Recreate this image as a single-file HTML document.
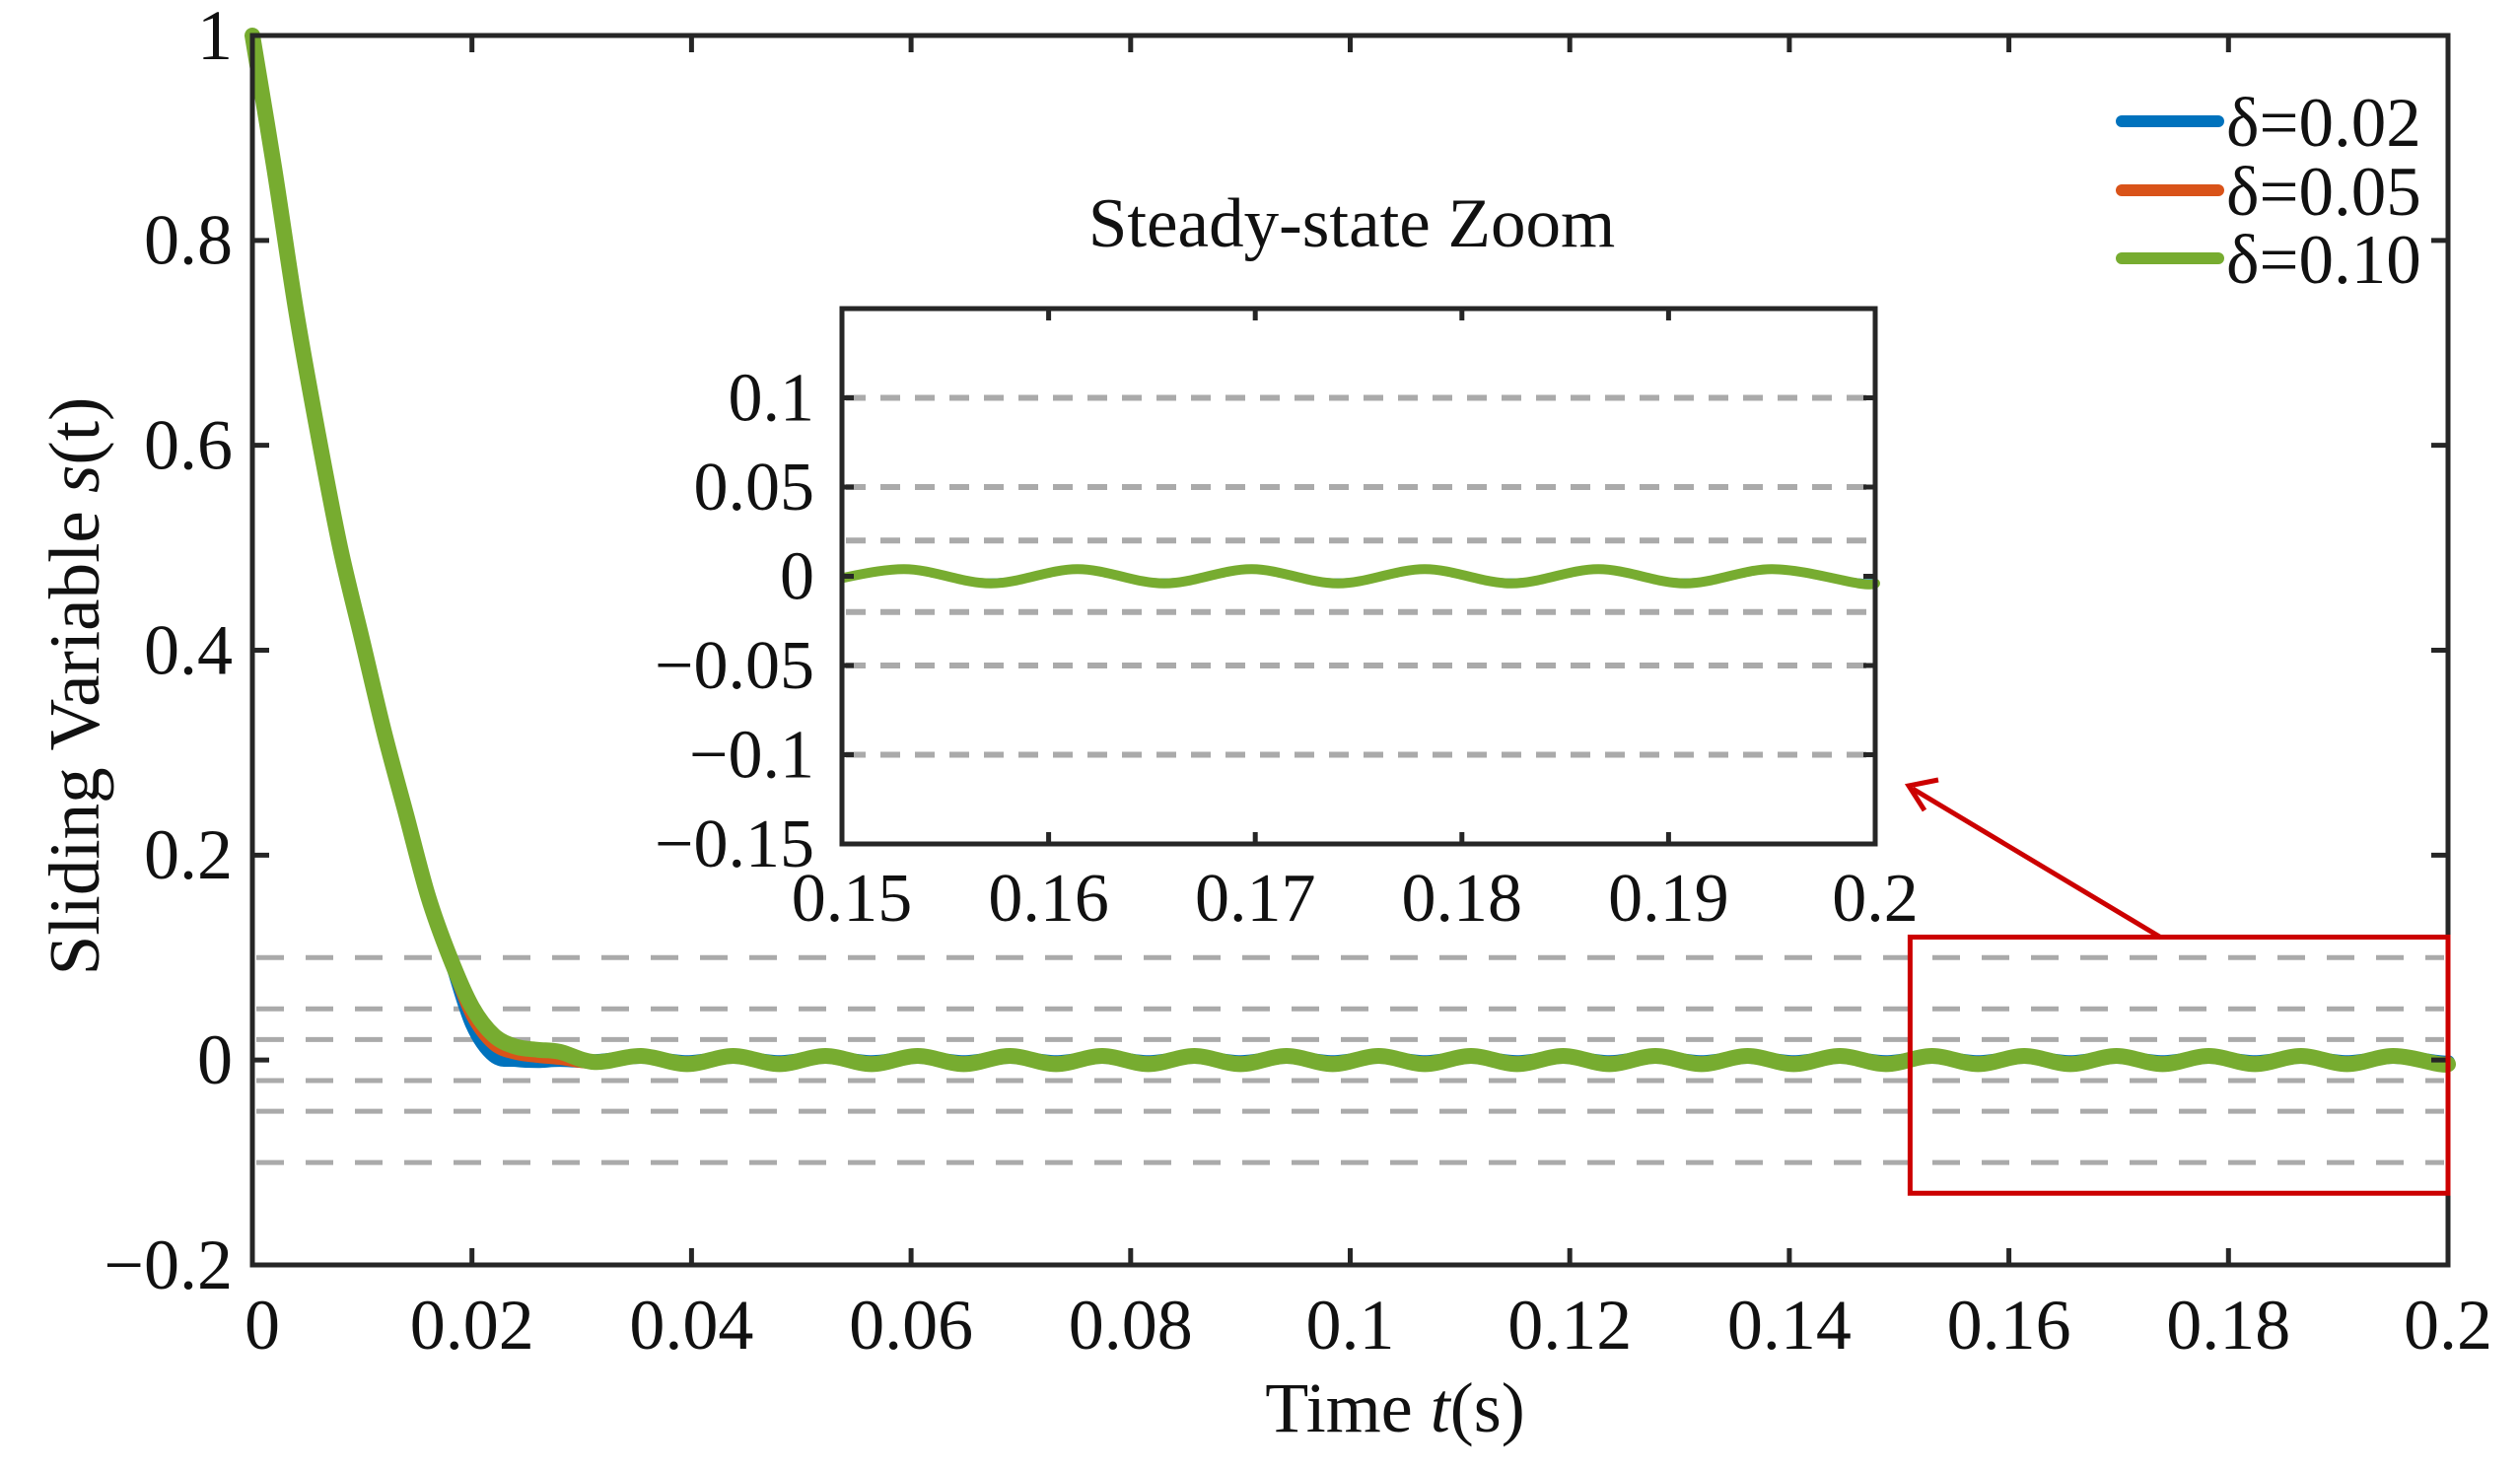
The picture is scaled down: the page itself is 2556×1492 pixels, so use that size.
<!DOCTYPE html>
<html><head><meta charset="utf-8"><style>
html,body{margin:0;padding:0;background:#fff;}
svg{display:block;font-family:"Liberation Serif",serif;}
</style></head><body>
<svg id="chart" width="2556" height="1492" viewBox="0 0 2556 1492" xmlns="http://www.w3.org/2000/svg">
<g id="main-grid"></g>
<g id="main-series"></g>
<g id="main-axes"></g>
<rect x="0" y="0" width="0" height="0" id="zoombox" fill="none" stroke="#cc0000" stroke-width="5"/>
<g id="arrow"></g>
<rect x="854" y="313" width="1048" height="543" fill="#fff"/>
<g id="inset-grid"></g>
<g id="inset-series"></g>
<g id="inset-axes"></g>
<text x="1371" y="250" font-size="71" text-anchor="middle" fill="#111">Steady-state Zoom</text>
<text x="1415" y="1452" font-size="72" text-anchor="middle" fill="#111">Time <tspan font-style="italic">t</tspan>(s)</text>
<text transform="translate(100,696) rotate(-90)" font-size="73" text-anchor="middle" fill="#111">Sliding Variable <tspan font-style="italic">s</tspan>(t)</text>
<g id="legend"></g>
</svg>
<script>
// ---- data ----
const seriesNames = ["δ=0.02","δ=0.05","δ=0.10"];
const seriesColors = ["#0072bd","#d95319","#77ac30"];
const transientT = [0,0.002,0.004,0.006,0.008,0.010,0.012,0.014,0.016,0.018,0.020,0.022,0.024,0.026,0.028];
const transientBlue = [1,0.87,0.73,0.61,0.50,0.41,0.32,0.24,0.16,0.10,0.035,0.004,0.000,-0.001,0.000];
const transientOrange = [1,0.87,0.73,0.61,0.50,0.41,0.32,0.24,0.16,0.10,0.045,0.016,0.007,0.004,0.002];
const transientGreen = [1,0.87,0.73,0.61,0.50,0.41,0.32,0.24,0.16,0.10,0.052,0.024,0.013,0.010,0.008];
const oscT = [0.0312,0.0354,0.0396,0.0438,0.0480,0.0522,0.0564,0.0606,0.0648,0.0690,0.0732,0.0774,0.0816,0.0858,0.0900,0.0942,0.0984,0.1026,0.1068,0.1110,0.1152,0.1194,0.1236,0.1278,0.1320,0.1362,0.1404,0.1446,0.1488,0.1530,0.1572,0.1614,0.1656,0.1698,0.1740,0.1782,0.1824,0.1866,0.1908,0.1950,0.1992,0.2000];
const oscBlue = [-0.001,0.003,-0.002,0.003,-0.002,0.003,-0.002,0.003,-0.002,0.003,-0.002,0.003,-0.002,0.003,-0.002,0.003,-0.002,0.003,-0.002,0.003,-0.002,0.003,-0.002,0.003,-0.002,0.003,-0.002,0.003,-0.002,0.003,-0.002,0.003,-0.002,0.003,-0.002,0.003,-0.002,0.003,-0.002,0.003,-0.002,-0.002];
const oscOrange = [-0.002,0.004,-0.003,0.004,-0.003,0.004,-0.003,0.004,-0.003,0.004,-0.003,0.004,-0.003,0.004,-0.003,0.004,-0.003,0.004,-0.003,0.004,-0.003,0.004,-0.003,0.004,-0.003,0.004,-0.003,0.004,-0.003,0.004,-0.003,0.004,-0.003,0.004,-0.003,0.004,-0.003,0.004,-0.003,0.004,-0.003,-0.003];
const oscGreen = [-0.002,0.004,-0.004,0.004,-0.004,0.004,-0.004,0.004,-0.004,0.004,-0.004,0.004,-0.004,0.004,-0.004,0.004,-0.004,0.004,-0.004,0.004,-0.004,0.004,-0.004,0.004,-0.004,0.004,-0.004,0.004,-0.004,0.004,-0.004,0.004,-0.004,0.004,-0.004,0.004,-0.004,0.004,-0.004,0.004,-0.004,-0.004];
const thresholds = [0.1,0.05,0.02,-0.02,-0.05,-0.1];
const xTicks = [0,0.02,0.04,0.06,0.08,0.1,0.12,0.14,0.16,0.18,0.2];
const xTickLabels = ["0","0.02","0.04","0.06","0.08","0.1","0.12","0.14","0.16","0.18","0.2"];
const yTicks = [-0.2,0,0.2,0.4,0.6,0.8,1];
const yTickLabels = ["−0.2","0","0.2","0.4","0.6","0.8","1"];
const insetXTicks = [0.15,0.16,0.17,0.18,0.19,0.2];
const insetXTickLabels = ["0.15","0.16","0.17","0.18","0.19","0.2"];
const insetYTicks = [-0.15,-0.1,-0.05,0,0.05,0.1];
const insetYTickLabels = ["−0.15","−0.1","−0.05","0","0.05","0.1"];
const zoomRange = [0.151,0.2,-0.13,0.12];

// ---- layout ----
const NS="http://www.w3.org/2000/svg";
const M={l:256,r:2483,t:36,b:1283,x0:0,x1:0.2,y0:-0.2,y1:1};
const I={l:854,r:1902,t:313,b:856,x0:0.15,x1:0.2,y0:-0.15,y1:0.15};
function sx(a,v){return a.l+(v-a.x0)/(a.x1-a.x0)*(a.r-a.l);}
function sy(a,v){return a.b-(v-a.y0)/(a.y1-a.y0)*(a.b-a.t);}
function mk(tag,attrs,parent){const e=document.createElementNS(NS,tag);for(const k in attrs)e.setAttribute(k,attrs[k]);parent.appendChild(e);return e;}
function smooth(pts){
  let d="M"+pts[0][0].toFixed(2)+","+pts[0][1].toFixed(2);
  for(let i=0;i<pts.length-1;i++){
    const p0=pts[Math.max(i-1,0)],p1=pts[i],p2=pts[i+1],p3=pts[Math.min(i+2,pts.length-1)];
    const c1=[p1[0]+(p2[0]-p0[0])/6,p1[1]+(p2[1]-p0[1])/6];
    const c2=[p2[0]-(p3[0]-p1[0])/6,p2[1]-(p3[1]-p1[1])/6];
    d+="C"+c1[0].toFixed(2)+","+c1[1].toFixed(2)+" "+c2[0].toFixed(2)+","+c2[1].toFixed(2)+" "+p2[0].toFixed(2)+","+p2[1].toFixed(2);
  }
  return d;
}
const allSeries=[
  {t:transientT.concat(oscT),v:transientBlue.concat(oscBlue)},
  {t:transientT.concat(oscT),v:transientOrange.concat(oscOrange)},
  {t:transientT.concat(oscT),v:transientGreen.concat(oscGreen)}
];

function drawAxes(a,g,xt,xl,yt,yl,fs,tickLen,lw,xLabY,yLabX){
  const box=mk("rect",{x:a.l,y:a.t,width:a.r-a.l,height:a.b-a.t,fill:"none",stroke:"#262626","stroke-width":lw},g);
  
  
  xt.forEach((v,i)=>{
    const x=sx(a,v);
    const t1=mk("line",{x1:x,x2:x,y1:a.b,y2:a.b-tickLen,stroke:"#262626","stroke-width":lw},g);
    
    
    const t2=mk("line",{x1:x,x2:x,y1:a.t,y2:a.t+tickLen,stroke:"#262626","stroke-width":lw},g);
    
    
    const tx=mk("text",{x:x+(i===0?10:0),y:xLabY,"font-size":fs,"text-anchor":"middle",fill:"#111"},g);
    tx.textContent=xl[i];
    
    
  });
  yt.forEach((v,i)=>{
    const y=sy(a,v);
    const t1=mk("line",{x1:a.l,x2:a.l+tickLen,y1:y,y2:y,stroke:"#262626","stroke-width":lw},g);
    
    
    const t2=mk("line",{x1:a.r,x2:a.r-tickLen,y1:y,y2:y,stroke:"#262626","stroke-width":lw},g);
    
    
    const tx=mk("text",{x:yLabX,y:y+fs*0.33,"font-size":fs,"text-anchor":"end",fill:"#111"},g);
    tx.textContent=yl[i];
    
    
  });
}
function drawGrid(a,g,dash,w){
  thresholds.forEach(v=>{
    const y=sy(a,v);
    const l=mk("line",{x1:a.l+4,x2:a.r-4,y1:y,y2:y,stroke:"#aaaaaa","stroke-width":w,"stroke-dasharray":dash},g);
    
    
  });
}
function drawSeries(a,g,widths,clip){
  allSeries.forEach((s,k)=>{
    const pts=[];
    for(let i=0;i<s.t.length;i++){ if(!clip||s.t[i]>=a.x0-0.005) pts.push([sx(a,s.t[i]),sy(a,s.v[i])]); }
    const p=mk("path",{d:smooth(pts),fill:"none",stroke:seriesColors[k],"stroke-width":widths[k],"stroke-linecap":"round","stroke-linejoin":"round"},g);
    
    
  });
}
const mg=document.getElementById("main-grid"),ms=document.getElementById("main-series"),ma=document.getElementById("main-axes");
drawGrid(M,mg,"28 22",5);
drawSeries(M,ms,[14,14,16],false);
drawAxes(M,ma,xTicks,xTickLabels,yTicks,yTickLabels,72,17,5,1368,236);

// zoom box
const zb=document.getElementById("zoombox");
zb.setAttribute("x",sx(M,zoomRange[0]));zb.setAttribute("width",sx(M,zoomRange[1])-sx(M,zoomRange[0]));
zb.setAttribute("y",sy(M,zoomRange[3]));zb.setAttribute("height",sy(M,zoomRange[2])-sy(M,zoomRange[3]));
const ag=document.getElementById("arrow");
const ln=mk("line",{x1:2192,y1:951,x2:1940,y2:800,stroke:"#cc0000","stroke-width":5},ag);


const hd=mk("polyline",{points:"1966,791 1936,797 1952,822",fill:"none",stroke:"#cc0000","stroke-width":5},ag);



// inset
const ig=document.getElementById("inset-grid"),is=document.getElementById("inset-series"),ia=document.getElementById("inset-axes");
const clip=mk("clipPath",{id:"insetclip"},document.getElementById("chart"));
mk("rect",{x:I.l,y:I.t,width:I.r-I.l+8,height:I.b-I.t},clip);
is.setAttribute("clip-path","url(#insetclip)");
drawGrid(I,ig,"20 15",6);
drawSeries(I,is,[3,3,10],true);
drawAxes(I,ia,insetXTicks,insetXTickLabels,insetYTicks,insetYTickLabels,70,12,5,934,826);

// legend
const lg=document.getElementById("legend");
const legY=[123,193,262];
seriesNames.forEach((n,k)=>{
  const l=mk("line",{x1:2152,x2:2250,y1:legY[k],y2:legY[k],stroke:seriesColors[k],"stroke-width":12,"stroke-linecap":"round"},lg);
  
  
  const t=mk("text",{x:2258,y:legY[k]+25,"font-size":71,fill:"#111"},lg);
  t.textContent=n;
  
  
});
</script>
</body></html>
